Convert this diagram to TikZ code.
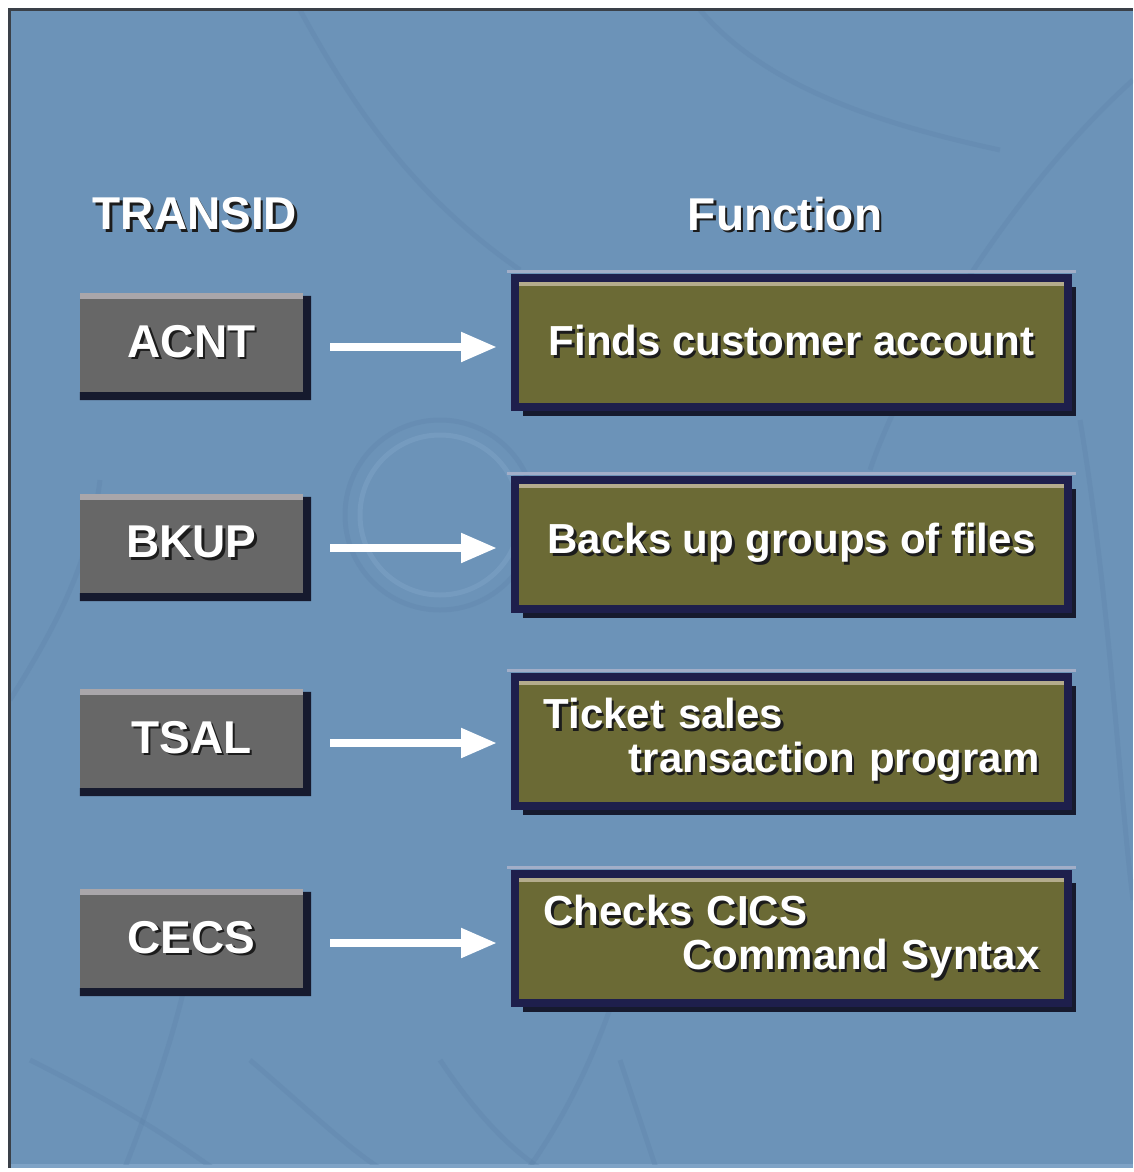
\documentclass[tikz,border=0pt]{standalone}
\usepackage{fontspec}
\setmainfont{Liberation Sans}
\usetikzlibrary{arrows.meta,shadows}
\definecolor{bgblue}{HTML}{6C93B8}
\definecolor{bglight}{HTML}{7FA3C6}
\definecolor{bgdark}{HTML}{5E84AA}
\definecolor{frameline}{HTML}{3A4048}
\definecolor{tgray}{HTML}{676767}
\definecolor{tgrayhi}{HTML}{A9A6AA}
\definecolor{olive}{HTML}{6B6A35}
\definecolor{olivehi}{HTML}{B4AC8C}
\definecolor{navy}{HTML}{1E1F4C}
\definecolor{navyhi}{HTML}{A2AEC8}
\definecolor{shadowdark}{HTML}{161A2E}
\definecolor{txtshadow}{HTML}{1C1C1C}
\newcommand\shd[1]{\leavevmode\rlap{\kern2.5pt\raisebox{-2.5pt}{\textcolor{txtshadow}{#1}}}#1}
\begin{document}
\begin{tikzpicture}[x=1pt,y=-1pt,
  header/.style={text=white,font=\bfseries\fontsize{46}{50}\selectfont,inner sep=0pt},
  idbox/.style={rectangle,fill=tgray,minimum width=223pt,minimum height=99pt,inner sep=0pt,
    text=white,font=\bfseries\fontsize{46}{50}\selectfont,
    path picture={\fill[tgrayhi] (path picture bounding box.north west) rectangle ([yshift=-6pt]path picture bounding box.north east);}},
  fnbox/.style={rectangle,fill=olive,draw=navy,line width=8pt,minimum width=553pt,minimum height=129pt,inner sep=0pt,
    text=white,font=\bfseries\fontsize{42}{44}\selectfont,
    drop shadow={shadow xshift=8pt,shadow yshift=-9pt,fill=shadowdark,opacity=1},
    path picture={\fill[olivehi] ([yshift=-4pt]path picture bounding box.north west) rectangle ([yshift=-8pt]path picture bounding box.north east);}},
  flow/.style={draw=white,line width=8pt,-{Triangle[length=36pt,width=28pt]},shorten <=27pt,shorten >=14pt},
  deco/.style={draw=bgdark,line width=5pt,opacity=0.35}
]
\useasboundingbox (0,0) rectangle (1133,1172);
\fill[white] (0,0) rectangle (1133,1172);
\fill[bgblue] (8,8) rectangle (1133,1168);
\fill[bglight] (8,1164) rectangle (1133,1168);
% faint background pattern
\begin{scope}
\clip (10,10) rectangle (1133,1164);
\draw[deco] (440,515) circle (95);
\draw[deco,draw=bglight,opacity=0.5] (440,515) circle (80);
\draw[deco] (30,1060) .. controls (150,1120) and (200,1160) .. (230,1180);
\draw[deco] (120,1180) .. controls (160,1080) and (190,990) .. (200,900);
\draw[deco] (250,1060) .. controls (320,1120) and (360,1160) .. (400,1180);
\draw[deco] (440,1060) .. controls (480,1120) and (520,1160) .. (560,1180);
\draw[deco] (620,1060) .. controls (640,1120) and (650,1150) .. (660,1180);
\draw[deco] (520,1180) .. controls (580,1100) and (620,1000) .. (640,900);
\draw[deco] (300,10) .. controls (360,120) and (420,200) .. (520,270);
\draw[deco] (1133,80) .. controls (1000,200) and (900,380) .. (870,470);
\draw[deco] (700,10) .. controls (760,80) and (860,120) .. (1000,150);
\draw[deco] (10,700) .. controls (60,620) and (90,560) .. (100,480);
\draw[deco] (1080,420) .. controls (1110,600) and (1120,800) .. (1133,900);
\end{scope}
\draw[frameline,line width=3pt] (9.5,1168) -- (9.5,9.5) -- (1133,9.5);
% headers
\node[header] (h1) at (195,215) {\shd{TRANSID}};
\node[header] (h2) at (785,215) {\shd{Function}};
% transaction id boxes
\node[idbox] (l1) at (191.5,342.5) {\shd{ACNT}};
\node[idbox] (l2) at (191.5,543.5) {\shd{BKUP}};
\node[idbox] (l3) at (191.5,738.5) {\shd{TSAL}};
\node[idbox] (l4) at (191.5,938.5) {\shd{CECS}};
\foreach \n in {l1,l2,l3,l4}
  \fill[shadowdark] ([yshift=-3pt]\n.north east) -- ([xshift=8pt,yshift=-3pt]\n.north east)
    -- ([xshift=8pt,yshift=-8pt]\n.south east) -- ([yshift=-8pt]\n.south west)
    -- (\n.south west) -- (\n.south east) -- cycle;
% function boxes
\node[fnbox] (f1) at (791.5,342) {\shd{Finds customer account}};
\node[fnbox] (f2) at (791.5,544) {\shd{Backs up groups of files}};
\node[fnbox,align=left,text width=496pt] (f3) at (791.5,741)
  {\shd{Ticket sales}\\\hspace*{\fill}\shd{transaction program}};
\node[fnbox,align=left,text width=496pt] (f4) at (791.5,938)
  {\shd{Checks CICS}\\\hspace*{\fill}\shd{Command Syntax}};
\foreach \n in {f1,f2,f3,f4}
  \draw[navyhi,line width=3pt] ([xshift=-4pt,yshift=2.5pt]\n.north west) -- ([xshift=4pt,yshift=2.5pt]\n.north east);
% arrows
\foreach \a/\b in {l1/f1,l2/f2,l3/f3,l4/f4}
  \draw[flow] ([yshift=-4.5pt]\a.east) -- ([yshift=-4.5pt]\a.east -| \b.west);
\end{tikzpicture}
\end{document}
